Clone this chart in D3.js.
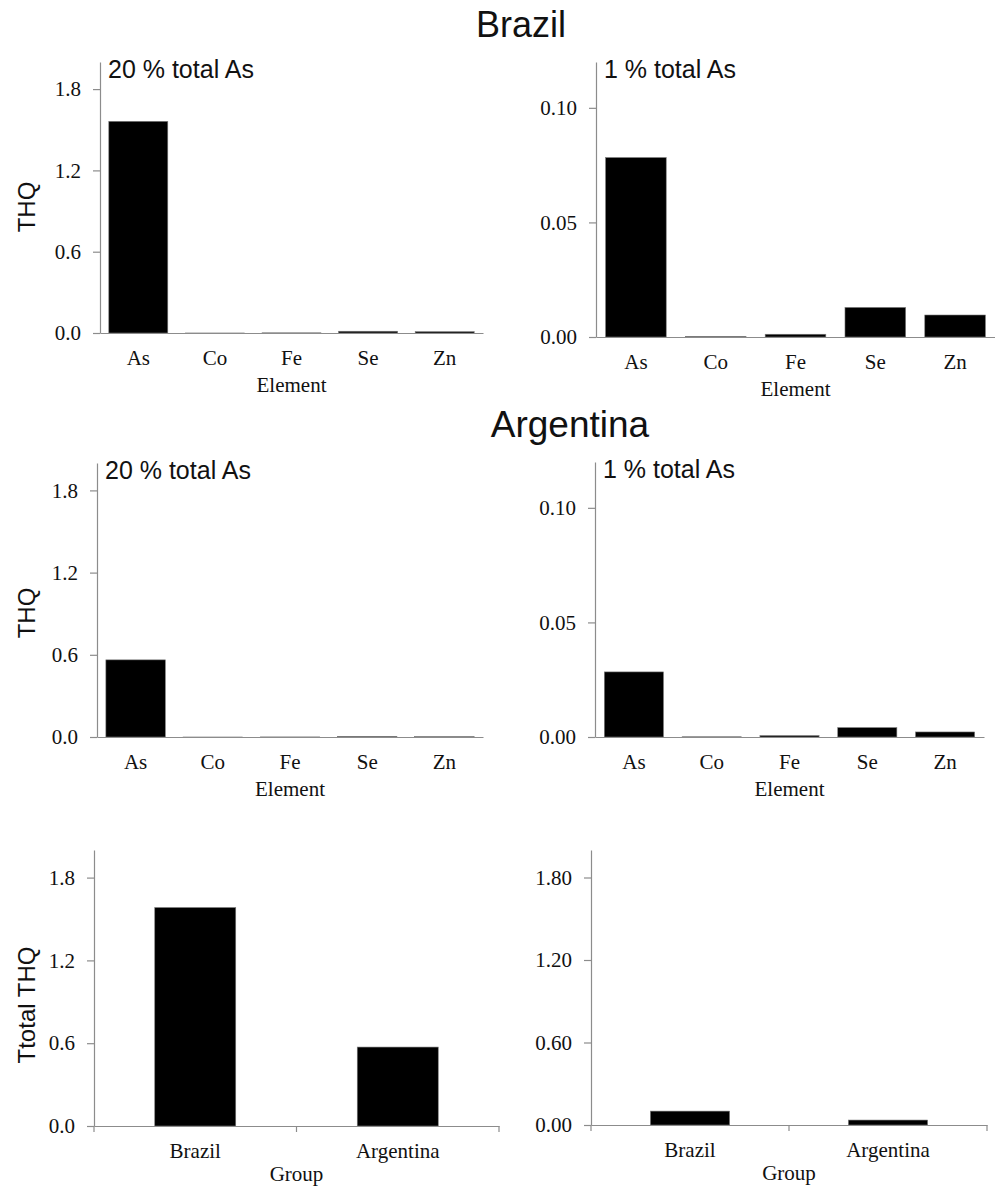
<!DOCTYPE html>
<html>
<head>
<meta charset="utf-8">
<script src="https://cdn.jsdelivr.net/npm/d3@7"></script>
<style>
  body { margin: 0; background: #fff; }
</style>
</head>
<body>
<svg id="chart"></svg>
<script>
/**
 * Global variables
 */
var elements = ["As", "Co", "Fe", "Se", "Zn"];
var groups = ["Brazil", "Argentina"];

var brazil20 = [1.562, 0.0002, 0.0012, 0.0129, 0.0096];
var brazil1 = [0.0783, 0.0002, 0.0012, 0.0129, 0.0096];
var argentina20 = [0.563, 0.0001, 0.0006, 0.0041, 0.0022];
var argentina1 = [0.0284, 0.0001, 0.0006, 0.0041, 0.0022];
var total20 = [1.583, 0.572];
var total1 = [0.101, 0.036];

var ticksBig = [0, 0.6, 1.2, 1.8];
var ticksSmall = [0, 0.05, 0.10];

var w = 995;
var h = 1188;
var axisColor = "#8c8c8c";
var sans = "'Liberation Sans', Arial, sans-serif";
var serif = "'Liberation Serif', 'Times New Roman', serif";

var svg = d3.select("#chart").attr("width", w).attr("height", h);

/**
 * Draw one bar panel.
 *
 * @param opts: x0, x1, top, base (pixel box), cats, vals, max, ticks, fmt,
 *              pad (band padding), subtitle, ylabel, xlabel, catTicks
 */
var drawPanel = function(opts) {
    let x = d3.scaleBand()
        .domain(opts.cats)
        .range([opts.x0, opts.x1])
        .paddingInner(opts.pad)
        .paddingOuter(opts.pad / 2);

    let y = d3.scaleLinear()
        .domain([0, opts.max])
        .range([opts.base, opts.top]);

    let g = svg.append("g");

    // bars
    g.append("g").selectAll("rect")
        .data(opts.vals)
        .enter()
        .append("rect")
        .attr("x", function(d, i) { return x(opts.cats[i]); })
        .attr("width", x.bandwidth())
        .attr("y", function(d) { return y(d); })
        .attr("height", function(d) { return Math.max(0.5, opts.base - y(d)); })
        .attr("fill", "#000")
        .attr("stroke", "#7a7a7a")
        .attr("stroke-width", 0.6);

    // Y-axis
    let yAxis = g.append("g")
        .attr("transform", "translate(" + opts.x0 + ",0)")
        .call(d3.axisLeft(y)
            .tickValues(opts.ticks)
            .tickFormat(d3.format(opts.fmt))
            .tickSize(7)
            .tickSizeOuter(0)
            .tickPadding(12));

    // X-axis
    let xAxis = g.append("g")
        .attr("transform", "translate(0," + opts.base + ")")
        .call(d3.axisBottom(x)
            .tickSize(0)
            .tickSizeOuter(0)
            .tickPadding(17));

    [yAxis, xAxis].forEach(function(a) {
        a.select(".domain").attr("stroke", axisColor).attr("stroke-width", 1.2);
        a.selectAll(".tick line").attr("stroke", axisColor).attr("stroke-width", 1.2);
        a.selectAll(".tick text")
            .style("font-family", serif)
            .style("font-size", "21px")
            .attr("fill", "#111");
    });

    // category boundary ticks for the group panels
    if (opts.catTicks) {
        let edges = d3.range(opts.cats.length + 1).map(function(i) {
            return opts.x0 + i * x.step();
        });
        g.append("g").selectAll("line")
            .data(edges)
            .enter()
            .append("line")
            .attr("x1", function(d) { return d; })
            .attr("x2", function(d) { return d; })
            .attr("y1", opts.base)
            .attr("y2", opts.base + 6)
            .attr("stroke", axisColor)
            .attr("stroke-width", 1.2);
    }

    // Axis labels
    g.append("text")
        .attr("text-anchor", "middle")
        .attr("x", (opts.x0 + opts.x1) / 2)
        .attr("y", opts.base + (opts.xlabelOffset || 59))
        .style("font-family", serif)
        .style("font-size", "21px")
        .attr("fill", "#111")
        .text(opts.xlabel);

    if (opts.ylabel) {
        g.append("text")
            .attr("text-anchor", "middle")
            .attr("transform", "translate(35," + opts.ylabelY + ")rotate(-90)")
            .style("font-family", sans)
            .style("font-size", "24px")
            .attr("fill", "#111")
            .text(opts.ylabel);
    }

    if (opts.subtitle) {
        g.append("text")
            .attr("x", opts.x0 + 8)
            .attr("y", opts.top + 16)
            .style("font-family", sans)
            .style("font-size", "25px")
            .attr("fill", "#111")
            .text(opts.subtitle);
    }
};

// Section titles
svg.append("text")
    .attr("text-anchor", "middle")
    .attr("x", 521).attr("y", 37)
    .style("font-family", sans).style("font-size", "36px").attr("fill", "#111")
    .text("Brazil");

svg.append("text")
    .attr("text-anchor", "middle")
    .attr("x", 570).attr("y", 437)
    .style("font-family", sans).style("font-size", "37px").attr("fill", "#111")
    .text("Argentina");

// Brazil
drawPanel({ x0: 100, x1: 483, top: 62, base: 333, cats: elements, vals: brazil20,
    max: 2.0, ticks: ticksBig, fmt: ".1f", pad: 0.23,
    subtitle: "20 % total As", ylabel: "THQ", ylabelY: 207, xlabel: "Element" });

drawPanel({ x0: 596, x1: 995, top: 62, base: 337, cats: elements, vals: brazil1,
    max: 0.12, ticks: ticksSmall, fmt: ".2f", pad: 0.24,
    subtitle: "1 % total As", xlabel: "Element" });

// Argentina
drawPanel({ x0: 97, x1: 483, top: 463, base: 737, cats: elements, vals: argentina20,
    max: 2.0, ticks: ticksBig, fmt: ".1f", pad: 0.23,
    subtitle: "20 % total As", ylabel: "THQ", ylabelY: 613, xlabel: "Element" });

drawPanel({ x0: 595, x1: 984, top: 462, base: 737, cats: elements, vals: argentina1,
    max: 0.12, ticks: ticksSmall, fmt: ".2f", pad: 0.24,
    subtitle: "1 % total As", xlabel: "Element" });

// Totals
drawPanel({ x0: 94, x1: 499, top: 850, base: 1126, cats: groups, vals: total20,
    max: 2.0, ticks: ticksBig, fmt: ".1f", pad: 0.6, catTicks: true,
    ylabel: "Ttotal THQ", ylabelY: 1005, xlabel: "Group", xlabelOffset: 55 });

drawPanel({ x0: 591, x1: 987, top: 850, base: 1125, cats: groups, vals: total1,
    max: 2.0, ticks: ticksBig, fmt: ".2f", pad: 0.6, catTicks: true,
    xlabel: "Group", xlabelOffset: 55 });
</script>
</body>
</html>
